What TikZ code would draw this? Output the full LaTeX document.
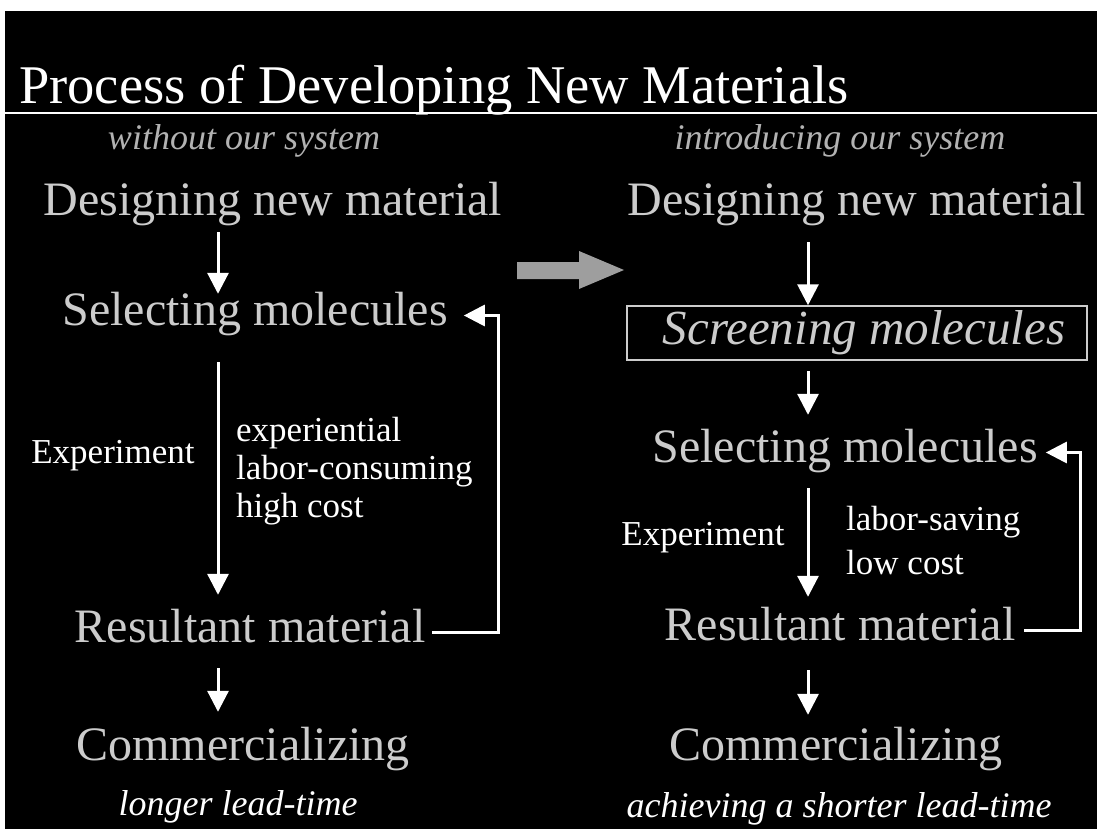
\documentclass[tikz,border=0pt]{standalone}
\usepackage{fontspec}
\setmainfont{Liberation Serif}
\usepackage{tikz}
\usetikzlibrary{arrows.meta,positioning}

\begin{document}
\begin{tikzpicture}[x=1pt,y=-1pt]
  % Colors
  \colorlet{stepcolor}{black!20}
  \colorlet{subcolor}{black!30}
  \colorlet{bigarrow}{black!38}

  % Styles
  \tikzstyle{stage}=[inner sep=0pt,anchor=base,text=stepcolor,
    text height=31pt,text depth=12pt,font=\fontsize{48}{52}\selectfont]
  \tikzstyle{sub title}=[inner sep=0pt,anchor=base,text=subcolor,
    font=\fontsize{36}{40}\selectfont\itshape]
  \tikzstyle{remark}=[inner sep=0pt,text=white,font=\fontsize{35}{38}\selectfont]
  \tikzstyle{lead}=[inner sep=0pt,anchor=base,text=white,
    font=\fontsize{36}{40}\selectfont\itshape]
  \tikzstyle{flow}=[draw=white,line width=3pt,
    -{Triangle[width=21pt,length=21pt]},shorten <=14pt,shorten >=14pt]

  % Background and frame
  \useasboundingbox (0,0) rectangle (1097,829);
  \fill[white] (0,0) rectangle (1097,829);
  \fill[black] (5,11) rectangle (1097,829);

  % Title
  \node[inner sep=0pt,anchor=base west,text=white,
    font=\fontsize{54.5}{60}\selectfont] (title) at (19,104)
    {Process of Developing New Materials};
  \draw[white,line width=2pt] (5,113) -- (1097,113);

  % Left column: without our system
  \coordinate (colL) at (218,0);
  \coordinate (loopL) at (498,0);
  \node[sub title] (subL) at (244,150) {without our system};
  \node[stage] (dL) at (273,215) {Designing new material};
  \node[stage] (sL) at (255,325) {Selecting molecules};
  \node[remark,anchor=base] (eL) at (113,463) {Experiment};
  % base of a multi-line node is its last line
  \node[remark,anchor=base west,align=left,
    font=\fontsize{35}{38}\selectfont] (cL) at (236,517)
    {experiential\\labor-consuming\\high cost};
  \node[stage] (rL) at (250,642) {Resultant material};
  \node[stage] (kL) at (243,760) {Commercializing};
  \node[lead] (tL) at (238,815) {longer lead-time};

  \draw[flow,shorten <=5pt,shorten >=0pt] (dL.south -| colL) -- (sL.north -| colL);
  \draw[flow,shorten <=25pt,shorten >=16pt] (sL.south -| colL) -- (rL.north -| colL);
  \draw[flow,shorten >=17pt] (rL.south -| colL) -- (kL.north -| colL);
  \draw[flow,shorten <=8pt,shorten >=16pt,line cap=rect]
    (rL.east) -- (rL.east -| loopL) -- (sL.east -| loopL) -- (sL.east);

  % Big arrow between the columns
  \fill[bigarrow] (517,262) -- (579,262) -- (579,251) -- (624,270)
    -- (579,289) -- (579,279) -- (517,279) -- cycle;

  % Right column: introducing our system
  \coordinate (colR) at (808,0);
  \coordinate (loopR) at (1080,0);
  \node[sub title] (subR) at (840,150) {introducing our system};
  \node[stage] (dR) at (857,215) {Designing new material};
  \node[draw=stepcolor,line width=1.5pt,text=stepcolor,inner sep=0pt,
    minimum width=460pt,minimum height=54pt,
    font=\fontsize{49}{52}\selectfont\itshape] (scr) at (857,333)
    {\hspace{14pt}Screening molecules};
  \node[stage] (sR) at (845,462) {Selecting molecules};
  \node[remark,anchor=base] (eR) at (703,545) {Experiment};
  \node[remark,anchor=base west,align=left,
    font=\fontsize{35}{44}\selectfont] (cR) at (846,574)
    {labor-saving\\low cost};
  \node[stage] (rR) at (840,640) {Resultant material};
  \node[stage] (kR) at (836,760) {Commercializing};
  \node[lead] (tR) at (839,817) {achieving a shorter lead-time};

  \draw[flow,shorten <=15pt,shorten >=0pt] (dR.south -| colR) -- (scr.north -| colR);
  \draw[flow,shorten <=10pt,shorten >=16pt] (scr.south -| colR) -- (sR.north -| colR);
  \draw[flow,shorten >=12pt] (sR.south -| colR) -- (rR.north -| colR);
  \draw[flow,shorten <=18pt] (rR.south -| colR) -- (kR.north -| colR);
  \draw[flow,shorten <=10pt,shorten >=8pt,line cap=rect]
    (rR.east) -- (rR.east -| loopR) -- (sR.east -| loopR) -- (sR.east);
\end{tikzpicture}
\end{document}
